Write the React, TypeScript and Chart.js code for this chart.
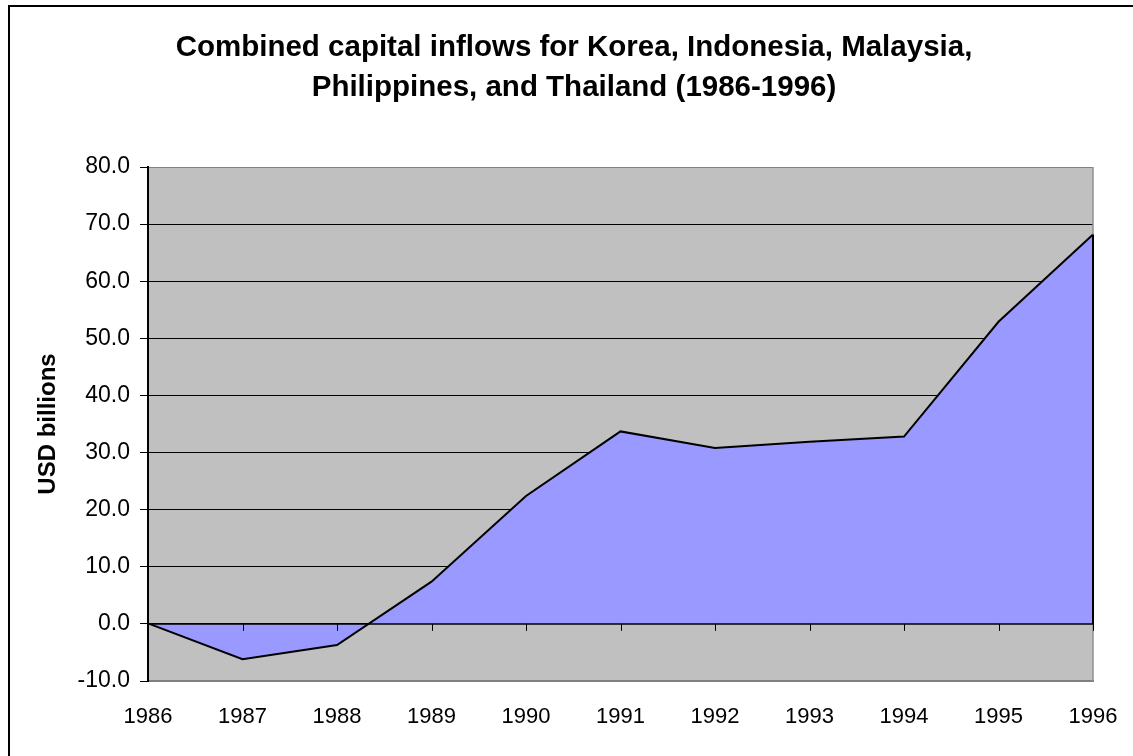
import React, { useEffect, useRef } from "react";
import { Chart, registerables } from "chart.js";

Chart.register(...registerables);

const years = ["1986", "1987", "1988", "1989", "1990", "1991", "1992", "1993", "1994", "1995", "1996"];
const inflows = [0.1, -6.2, -3.7, 7.4, 22.4, 33.7, 30.8, 31.9, 32.8, 52.9, 68.2];
const yTicks = [-10, 0, 10, 20, 30, 40, 50, 60, 70, 80];
const titleLines = [
  "Combined capital inflows for Korea, Indonesia, Malaysia,",
  "Philippines, and Thailand (1986-1996)",
];
const yAxisTitle = "USD billions";

const FONT = "'Liberation Sans', Arial, sans-serif";

const excelPlugin = {
  id: "excelLook",
  beforeDraw(chart: any) {
    const { ctx, chartArea: a } = chart;
    ctx.save();
    ctx.fillStyle = "#C0C0C0";
    ctx.fillRect(a.left, a.top, a.right - a.left, a.bottom - a.top);
    ctx.strokeStyle = "#000";
    ctx.lineWidth = 2;
    ctx.strokeRect(9, 6, 1300, 900);
    ctx.restore();
  },
  afterDatasetsDraw(chart: any) {
    const { ctx, chartArea: a } = chart;
    const xs = chart.scales.x;
    const ys = chart.scales.y;
    const y0 = ys.getPixelForValue(0);
    ctx.save();
    // right border of plot area
    ctx.strokeStyle = "#909090";
    ctx.lineWidth = 1.5;
    ctx.beginPath();
    ctx.moveTo(a.right, a.top);
    ctx.lineTo(a.right, a.bottom);
    ctx.stroke();
    // category axis line at zero
    ctx.strokeStyle = "#000";
    ctx.lineWidth = 1.5;
    ctx.beginPath();
    ctx.moveTo(a.left, y0);
    ctx.lineTo(a.right, y0);
    ctx.stroke();
    // tick marks at zero line
    ctx.lineWidth = 1;
    for (let i = 0; i < years.length; i++) {
      const x = Math.round(xs.getPixelForTick(i)) + 0.5;
      ctx.beginPath();
      ctx.moveTo(x, y0);
      ctx.lineTo(x, y0 + 7);
      ctx.stroke();
    }
    // closing vertical edge of the area at the last category
    const last = inflows.length - 1;
    const xl = xs.getPixelForValue(last);
    ctx.lineWidth = 2;
    ctx.beginPath();
    ctx.moveTo(xl, ys.getPixelForValue(inflows[last]));
    ctx.lineTo(xl, y0);
    ctx.stroke();
    ctx.restore();
  },
};

export default function App() {
  const ref = useRef<HTMLCanvasElement | null>(null);

  useEffect(() => {
    if (!ref.current) return;
    const chart = new Chart(ref.current, {
      type: "line",
      data: {
        labels: years,
        datasets: [
          {
            data: inflows,
            borderColor: "#000",
            borderWidth: 2,
            backgroundColor: "#9999FF",
            fill: "origin",
            pointRadius: 0,
            tension: 0,
          },
        ],
      },
      options: {
        animation: false,
        responsive: false,
        devicePixelRatio: 1,
        layout: { padding: { top: 0, left: 55, right: 40, bottom: 0 } },
        plugins: {
          legend: { display: false },
          tooltip: { enabled: false },
          title: {
            display: true,
            text: titleLines,
            color: "#000",
            font: { family: FONT, size: 29.5, weight: "bold", lineHeight: 40 / 29.5 },
            padding: { top: 27.5, bottom: 59.5 },
          },
        },
        scales: {
          x: {
            type: "category",
            offset: false,
            grid: { display: false, drawTicks: false },
            border: { display: true, color: "#808080", width: 2 },
            ticks: {
              color: "#000",
              font: { family: FONT, size: 22 },
              padding: 23,
              maxRotation: 0,
              autoSkip: false,
            },
            afterFit(scale: any) {
              scale.height = 75;
              scale.paddingLeft = 0;
              scale.paddingRight = 0;
            },
          },
          y: {
            min: -10,
            max: 80,
            afterBuildTicks(scale: any) {
              scale.ticks = yTicks.map((v) => ({ value: v }));
            },
            grid: {
              color: (c: any) =>
                c.tick && (c.tick.value === 80 || c.tick.value === -10) ? "#808080" : "#000",
              lineWidth: 1,
              tickLength: 8,
              tickColor: "#000",
            },
            border: { display: true, color: "#000", width: 2, z: 1 },
            ticks: {
              color: "#000",
              font: { family: FONT, size: 23 },
              padding: 10,
              callback: (v: any) => Number(v).toFixed(1),
            },
            title: {
              display: true,
              text: yAxisTitle,
              color: "#000",
              font: { family: FONT, size: 24, weight: "bold", lineHeight: 1.2 },
              padding: { top: -21.4, bottom: 0 },
            },
            afterFit(scale: any) {
              scale.width = 93;
            },
          },
        },
      },
      plugins: [excelPlugin],
    });
    return () => chart.destroy();
  }, []);

  return (
    <div style={{ position: "absolute", left: 0, top: 0, width: 1133, height: 756, background: "#fff" }}>
      <canvas ref={ref} width={1133} height={756} style={{ display: "block" }} />
    </div>
  );
}
